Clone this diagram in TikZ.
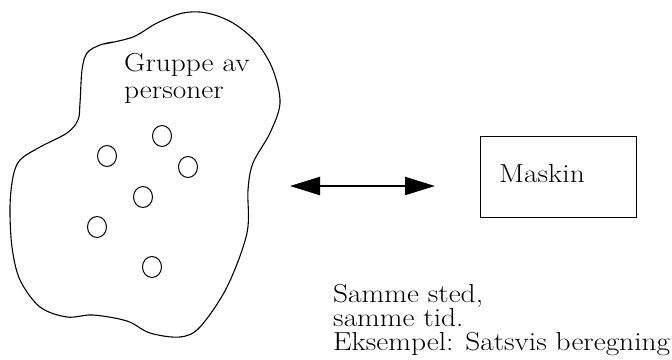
\documentclass[tikz,border=0pt]{standalone}
\usepackage{graphicx}
\usetikzlibrary{arrows.meta,shapes.geometric}
\newcommand\stretchtext[1]{\scalebox{1.13}[1.0]{#1}}
\tikzset{
  lbl/.style={inner sep=0pt, anchor=base west, font=\fontsize{26}{26}\selectfont},
  person/.style={draw, ellipse, line width=1pt, minimum width=19pt, minimum height=21pt, inner sep=0pt},
  machinebox/.style={draw, line width=1pt, minimum width=156pt, minimum height=81pt, inner sep=0pt},
  bigtip/.tip={Triangle[length=30pt,width=18pt]}
}
\begin{document}
\begin{tikzpicture}[x=1pt,y=-1pt]
\useasboundingbox (0,0) rectangle (672,359);

% outline of the group
\draw[line width=1.1pt] plot[smooth, tension=0.55] coordinates {
  (104,44) (133,37) (157,23) (183,13) (207,13) (233,23) (257,43) (273,70)
  (280,103) (270,133) (253,163) (248,190) (247,233) (227,287) (200,327)
  (180,337) (150,333) (127,321) (93,315) (67,317) (40,307) (20,280)
  (12,247) (10,207) (13,177) (20,160) (40,147) (67,133) (78,120) (80,103)
  (82,70) (87,53) (100,45) (113,42)};

\node[lbl] (g1) at (124,71) {\stretchtext{Gruppe av}};
\node[lbl] (g2) at (124,98) {\stretchtext{personer}};

% persons in the group
\node[person] (p1) at (162,136) {};
\node[person] (p2) at (107,156) {};
\node[person] (p3) at (188,167) {};
\node[person] (p4) at (143,197) {};
\node[person] (p5) at (97,227) {};
\node[person] (p6) at (152,267) {};

% machine
\node[machinebox] (m) at (558,176.5) {};
\node[lbl] (mt) at (499,182) {\stretchtext{Maskin}};

% interaction arrow
\coordinate (la) at (290,186);
\coordinate (ra) at (435,186);
\draw[line width=2.2pt, bigtip-bigtip] (la) -- (ra);

% caption
\node[lbl] (s1) at (333,302) {\stretchtext{Samme sted,}};
\node[lbl] (s2) at (333,326) {\stretchtext{samme tid.}};
\node[lbl] (s3) at (333,350) {\stretchtext{Eksempel: Satsvis beregning}};
\end{tikzpicture}
\end{document}
